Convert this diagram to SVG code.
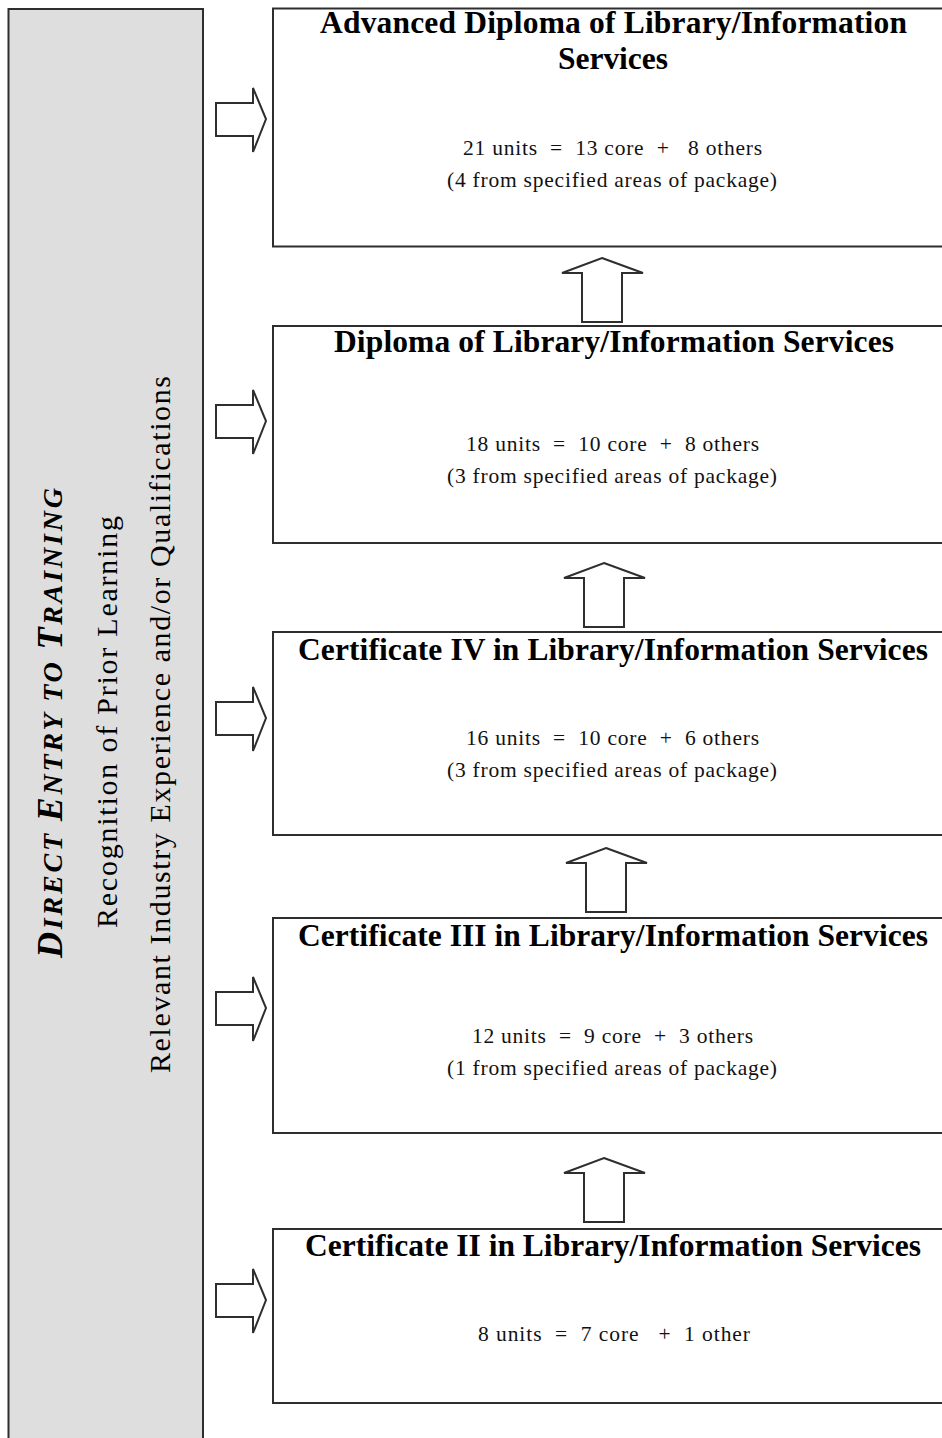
<svg xmlns="http://www.w3.org/2000/svg" width="942" height="1438" viewBox="0 0 942 1438">
  <style>
    .panel { fill: #dedede; stroke: #2e2e2e; stroke-width: 2; }
    .box { fill: #ffffff; stroke: #2e2e2e; stroke-width: 2; }
    .arrow { fill: #ffffff; stroke: #2e2e2e; stroke-width: 2; stroke-linejoin: miter; }
    .title { font-family: 'Liberation Serif', serif; font-weight: bold; font-size: 31.5px; fill: #000; text-anchor: middle; }
    .sub { font-family: 'Liberation Serif', serif; font-size: 21.5px; fill: #111; text-anchor: middle; white-space: pre; }
    .side { font-family: 'Liberation Serif', serif; font-size: 30px; fill: #000; text-anchor: middle; }
    .lead { font-weight: bold; font-style: italic; }
  </style>
  <defs>
    <!-- block arrow pointing right, origin at shaft start -->
    <polygon id="arrowRight" class="arrow" points="0,-16 37,-16 37,-31 50,0 37,33 37,17 0,17"/>
    <!-- block arrow pointing up, origin at tip -->
    <polygon id="arrowUp" class="arrow" points="0,0 41,15 20,15 20,64 -20,64 -20,15 -40,15"/>
  </defs>

  <!-- entry panel on the left -->
  <g id="entry-panel">
    <rect class="panel" x="8.5" y="9" width="194.5" height="1440"/>
    <text class="side lead" transform="translate(62,723) rotate(-90)" textLength="470"><tspan font-size="36">D</tspan><tspan font-size="28">IRECT </tspan><tspan font-size="36">E</tspan><tspan font-size="28">NTRY TO </tspan><tspan font-size="36">T</tspan><tspan font-size="28">RAINING</tspan></text>
    <text class="side" transform="translate(117,722) rotate(-90)" textLength="412">Recognition of Prior Learning</text>
    <text class="side" transform="translate(170,724.5) rotate(-90)" textLength="697">Relevant Industry Experience and/or Qualifications</text>
  </g>

  <!-- qualification boxes -->
  <g id="advanced-diploma">
    <rect class="box" x="273" y="8.5" width="690" height="238"/>
    <text class="title" x="613.5" y="33" textLength="587">Advanced Diploma of Library/Information</text>
    <text class="title" x="613" y="69" textLength="110">Services</text>
    <text class="sub" x="612.5" y="155" textLength="299">21 units  =  13 core  +   8 others</text>
    <text class="sub" x="612" y="187" textLength="330">(4 from specified areas of package)</text>
  </g>

  <g id="diploma">
    <rect class="box" x="273" y="326" width="690" height="217"/>
    <text class="title" x="614" y="352" textLength="560">Diploma of Library/Information Services</text>
    <text class="sub" x="612.5" y="451" textLength="293">18 units  =  10 core  +  8 others</text>
    <text class="sub" x="612" y="483" textLength="330">(3 from specified areas of package)</text>
  </g>

  <g id="certificate-iv">
    <rect class="box" x="273" y="632" width="690" height="203"/>
    <text class="title" x="613" y="660" textLength="630">Certificate IV in Library/Information Services</text>
    <text class="sub" x="612.5" y="745" textLength="293">16 units  =  10 core  +  6 others</text>
    <text class="sub" x="612" y="777" textLength="330">(3 from specified areas of package)</text>
  </g>

  <g id="certificate-iii">
    <rect class="box" x="273" y="918" width="690" height="215"/>
    <text class="title" x="613" y="946" textLength="630">Certificate III in Library/Information Services</text>
    <text class="sub" x="612.5" y="1043" textLength="281">12 units  =  9 core  +  3 others</text>
    <text class="sub" x="612" y="1075" textLength="330">(1 from specified areas of package)</text>
  </g>

  <g id="certificate-ii">
    <rect class="box" x="273" y="1229" width="690" height="174"/>
    <text class="title" x="613" y="1256" textLength="616">Certificate II in Library/Information Services</text>
    <text class="sub" x="614" y="1341" textLength="272">8 units  =  7 core   +  1 other</text>
  </g>

  <!-- connectors: entry arrows and progression arrows -->
  <g id="connectors">
    <use href="#arrowRight" x="216" y="119"/>
    <use href="#arrowRight" x="216" y="421"/>
    <use href="#arrowRight" x="216" y="718"/>
    <use href="#arrowRight" x="216" y="1008"/>
    <use href="#arrowRight" x="216" y="1300"/>
    <use href="#arrowUp" x="602" y="258"/>
    <use href="#arrowUp" x="604" y="563"/>
    <use href="#arrowUp" x="606" y="848"/>
    <use href="#arrowUp" x="604" y="1158"/>
  </g>
</svg>
